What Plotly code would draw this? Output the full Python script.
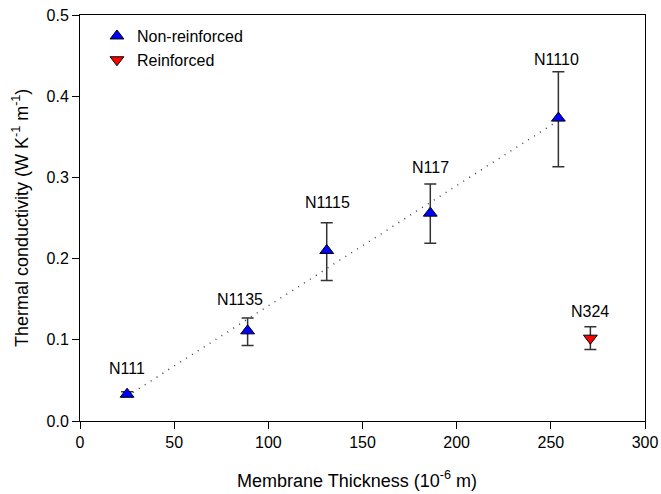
import numpy as np
import plotly.graph_objects as go

# Data
names_nr = ["N111", "N1135", "N1115", "N117", "N1110"]
thick_nr = [25, 89, 131, 186, 254]
k_nr = [0.033, 0.111, 0.210, 0.256, 0.373]
err_nr_plus = [0.003, 0.016, 0.034, 0.036, 0.057]
err_nr_minus = [0.003, 0.018, 0.037, 0.037, 0.060]

names_r = ["N324"]
thick_r = [271]
k_r = [0.102]
err_r_plus = [0.014]
err_r_minus = [0.014]

x_ticks = [0, 50, 100, 150, 200, 250, 300]
y_ticks = [0.0, 0.1, 0.2, 0.3, 0.4, 0.5]

x_title = "Membrane Thickness (10<sup>-6</sup> m)"
y_title = "Thermal conductivity (W K<sup>-1</sup> m<sup>-1</sup>)"

# styling (label offsets in px above the upper error cap)
label_shift_nr = [13, 8, 10, 6, 2]
label_xshift_nr = [0, -8, 1, 0, -2]
label_shift_r = [5]

font_family = "Liberation Sans, Arial, sans-serif"

fig = go.Figure()

# linear regression through the non-reinforced points
coef = np.polyfit(thick_nr, k_nr, 1)
x_fit = np.array([min(thick_nr), max(thick_nr)])
y_fit = np.polyval(coef, x_fit)
fig.add_trace(go.Scatter(
    x=x_fit, y=y_fit, mode="lines",
    line=dict(color="#444444", width=1.5, dash="1px,6px"),
    showlegend=False, hoverinfo="skip"))

fig.add_trace(go.Scatter(
    x=thick_nr, y=k_nr, mode="markers", name="Non-reinforced",
    marker=dict(symbol="triangle-up", size=12, color="#0000FF",
                line=dict(color="black", width=1)),
    error_y=dict(type="data", symmetric=False, array=err_nr_plus,
                 arrayminus=err_nr_minus, color="#333333",
                 thickness=1.5, width=6)))

fig.add_trace(go.Scatter(
    x=thick_r, y=k_r, mode="markers", name="Reinforced",
    marker=dict(symbol="triangle-down", size=12, color="#FF0000",
                line=dict(color="black", width=1)),
    error_y=dict(type="data", symmetric=False, array=err_r_plus,
                 arrayminus=err_r_minus, color="#333333",
                 thickness=1.5, width=6)))

for i, n in enumerate(names_nr):
    fig.add_annotation(x=thick_nr[i], y=k_nr[i] + err_nr_plus[i], text=n,
                       showarrow=False, yanchor="bottom",
                       yshift=label_shift_nr[i], xshift=label_xshift_nr[i],
                       font=dict(size=16, color="black", family=font_family))
for i, n in enumerate(names_r):
    fig.add_annotation(x=thick_r[i], y=k_r[i] + err_r_plus[i], text=n,
                       showarrow=False, yanchor="bottom",
                       yshift=label_shift_r[i],
                       font=dict(size=16, color="black", family=font_family))

# axis titles
fig.add_annotation(xref="paper", yref="paper", x=0.49, y=-0.1445,
                   xanchor="center", yanchor="middle", showarrow=False,
                   text=x_title,
                   font=dict(size=18, color="black", family=font_family))
fig.add_annotation(xref="paper", yref="paper", x=-0.106, y=0.5,
                   xanchor="center", yanchor="middle", showarrow=False,
                   textangle=-90, text=y_title,
                   font=dict(size=18, color="black", family=font_family))

axis_common = dict(
    showgrid=False, zeroline=False, showline=True, linecolor="black",
    linewidth=1, mirror=True, ticks="outside", ticklen=7, tickwidth=1,
    tickcolor="black", automargin=False,
    tickfont=dict(size=16, color="black", family=font_family))

fig.update_xaxes(range=[0, 300], tickvals=x_ticks,
                 ticktext=[str(v) for v in x_ticks], **axis_common)
fig.update_yaxes(range=[0, 0.5], tickvals=y_ticks,
                 ticktext=[f"{v:.1f}" for v in y_ticks], **axis_common)

fig.update_layout(
    width=661, height=494,
    margin=dict(l=80, r=16, t=15, b=73),
    paper_bgcolor="white", plot_bgcolor="white",
    legend=dict(x=0.03, y=0.99, xanchor="left", yanchor="top",
                bgcolor="rgba(0,0,0,0)", borderwidth=0,
                font=dict(size=16, color="black", family=font_family),
                itemwidth=30, tracegroupgap=0),
    font=dict(family=font_family),
)

fig.write_html("out.html",
               config={"displayModeBar": False},
               post_script="document.body.style.margin='0';"
                           "document.body.style.overflow='hidden';")
